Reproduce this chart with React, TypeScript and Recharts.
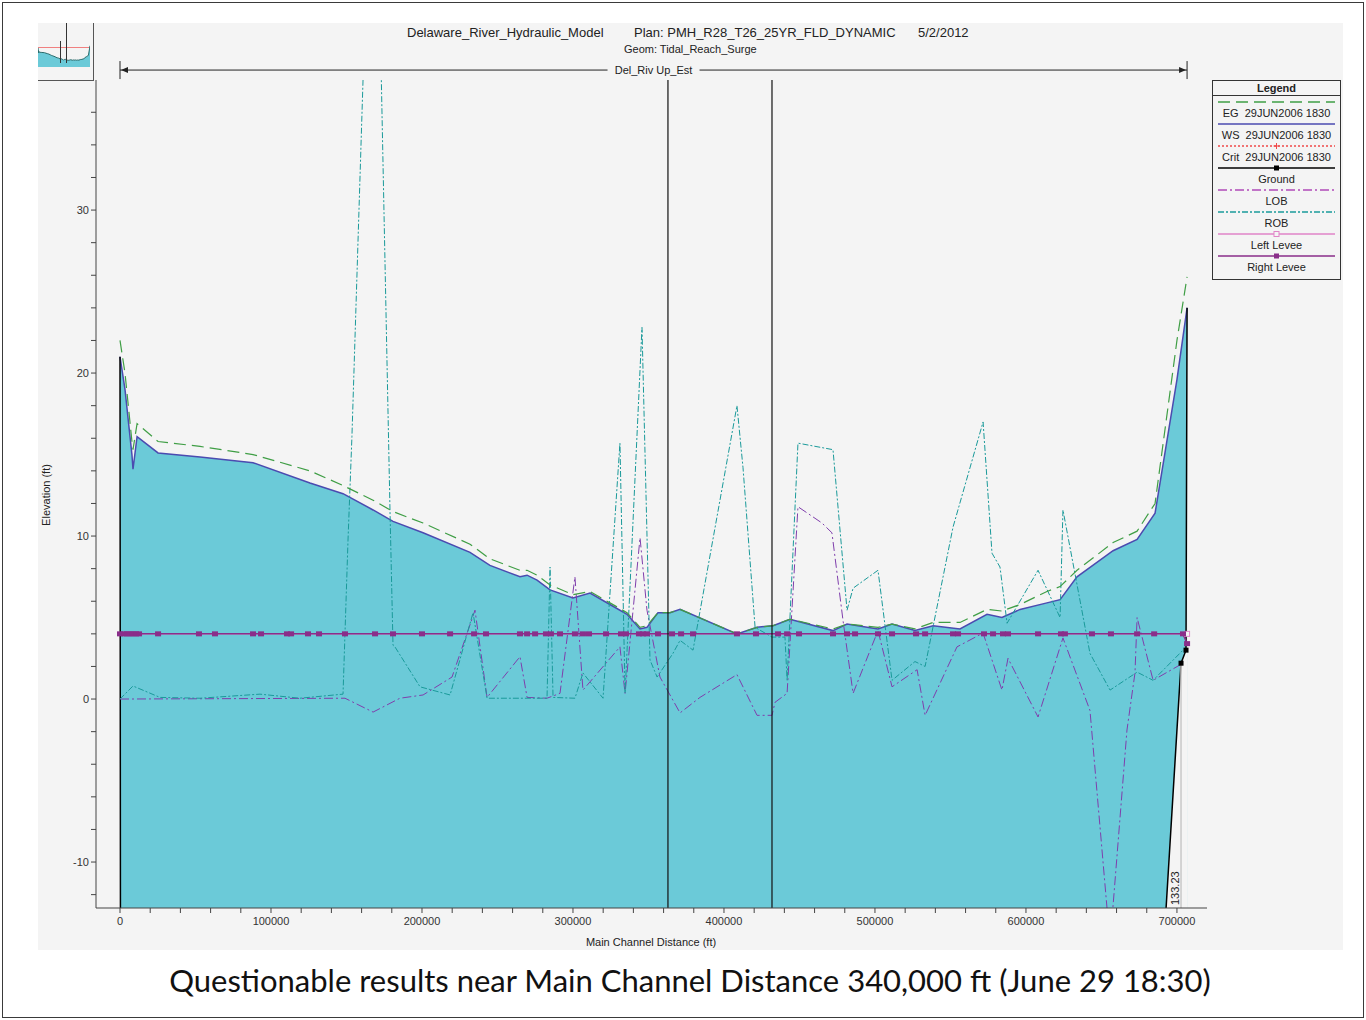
import React from 'react';
import { ComposedChart, AreaChart, Area, Line, XAxis, YAxis, ReferenceLine } from 'recharts';

// water surface / energy grade stations (ft) and elevations (ft)
const wsStation = [0, 3300, 7900, 8600, 11300, 25200, 53000, 88100, 125800, 147700, 167600, 180800, 200700, 231800,
  245000, 264900, 269600, 276200, 284800, 300000, 311300, 324500, 335800, 344400, 349000, 356300, 364300, 370900,
  408600, 421900, 432500, 443700, 472200, 481500, 502000, 511300, 526500, 538500, 556300, 574200, 584100, 596100,
  613900, 622600, 633800, 657700, 673600, 685500, 700000, 706700];
const wsElev = [21.0, 19.0, 15.0, 14.1, 16.1, 15.1, 14.85, 14.5, 13.25, 12.6, 11.6, 10.9, 10.2, 9.0,
  8.2, 7.5, 7.6, 7.3, 6.7, 6.2, 6.5, 5.8, 5.2, 4.3, 4.4, 5.3, 5.3, 5.5,
  4.0, 4.4, 4.5, 4.9, 4.2, 4.6, 4.3, 4.6, 4.2, 4.5, 4.3, 5.2, 5.0, 5.5,
  5.9, 6.1, 7.5, 9.1, 9.8, 11.4, 19.6, 24.0];
const egElev = [22.0, 20.0, 15.8, 15.3, 16.9, 15.8, 15.5, 15.0, 14.0, 13.1, 12.2, 11.5, 10.8, 9.5,
  8.6, 7.9, 7.9, 7.6, 7.0, 6.4, 6.6, 5.9, 5.3, 4.4, 4.5, 5.3, 5.3, 5.5,
  4.0, 4.4, 4.5, 4.9, 4.3, 4.6, 4.4, 4.6, 4.3, 4.7, 4.7, 5.5, 5.4, 5.8,
  6.6, 6.9, 7.9, 9.6, 10.3, 12.0, 22.0, 25.9];

// ground (thalweg) - mostly below the visible range
const groundStation = [0, 500, 674900, 702700, 706000, 706700];
const groundElev = [21.0, -40, -40, 2.2, 3.0, 24.0];
const groundMarked = [false, false, false, true, true, false];

const lobStation = [0, 149000, 167600, 185400, 200700, 219900, 235100, 243100, 264900, 269600, 282800, 291400,
  301300, 306600, 331100, 334500, 344400, 349000, 357600, 370900, 384100, 408600, 421900, 431800, 433800, 441800,
  449000, 464900, 471500, 478800, 485500, 502000, 511300, 527900, 533200, 554300, 571600, 584100, 588100, 608000,
  624500, 642400, 655700, 666900, 672200, 673600, 684200, 704000];
const lobElev = [0, 0.05, -0.8, 0.05, 0.25, 1.35, 5.45, 0.1, 2.6, 0.1, 0.05, 0.35,
  7.5, 0.55, 3.2, 0.35, 9.9, 5.45, 1.35, -0.85, 0.1, 1.5, -1.0, -1.0, -0.2, 0.35,
  11.8, 10.8, 10.2, 4.85, 0.35, 4.2, 0.75, 1.8, -1.0, 3.2, 4.05, 0.55, 2.5, -1.1,
  3.75, -0.7, -15, -1.9, 1.6, 5.0, 1.15, 2.2];

const robStation = [0, 8600, 26500, 53000, 92700, 119200, 147700, 151000, 153600, 162300, 172200, 178800, 180800,
  182100, 198700, 218600, 233800, 243100, 282800, 284800, 286800, 301300, 306600, 319900, 331100, 334500, 345700,
  351000, 355700, 366200, 370900, 379500, 408600, 412600, 420600, 431800, 440400, 441800, 449000, 472200, 481500,
  485500, 502000, 511300, 526500, 533200, 551700, 571600, 577500, 582800, 587500, 608000, 622600, 624500, 642400,
  655700, 673600, 684200, 704000];
const robElev = [0, 0.8, 0.1, 0.05, 0.3, 0.05, 0.3, 9.75, 16.1, 42, 42, 11.6, 3.3,
  3.2, 0.75, 0.25, 5.3, 0.05, 0.05, 8.1, 0.1, 0.05, 1.6, 0.05, 15.7, 0.35, 22.8,
  2.4, 1.35, 2.8, 3.6, 3.0, 18.0, 14.2, 4.4, 3.8, 3.8, 1.15, 15.7, 15.3, 5.45,
  6.8, 7.9, 1.15, 2.3, 2.0, 10.55, 17.0, 8.95, 8.1, 4.65, 7.9, 5.0, 11.6, 2.8,
  0.55, 1.65, 1.15, 3.0];

const leveeStation = [0, 2600, 4600, 6600, 8600, 10600, 12600, 25200, 52300, 62900, 88100, 93400, 110600, 113300,
  124500, 131800, 149000, 168900, 180800, 200000, 218600, 234500, 242400, 264900, 269600, 274900, 282100, 285400,
  291400, 301300, 306600, 310600, 321900, 331800, 335100, 343700, 346400, 349000, 356300, 365600, 371600, 379500,
  408600, 421200, 435800, 441800, 449700, 472200, 481500, 486800, 502000, 511300, 527200, 533200, 551700, 555000,
  572200, 578200, 584800, 588100, 608000, 623200, 625800, 643700, 656300, 673600, 684900, 704000, 706700];
const rightLeveeElev = [4.0, 4.0, 4.0, 4.0, 4.0, 4.0, 4.0, 4.0, 4.0, 4.0, 4.0, 4.0, 4.0, 4.0,
  4.0, 4.0, 4.0, 4.0, 4.0, 4.0, 4.0, 4.0, 4.0, 4.0, 4.0, 4.0, 4.0, 4.0,
  4.0, 4.0, 4.0, 4.0, 4.0, 4.0, 4.0, 4.0, 4.0, 4.0, 4.0, 4.0, 4.0, 4.0,
  4.0, 4.0, 4.0, 4.0, 4.0, 4.0, 4.0, 4.0, 4.0, 4.0, 4.0, 4.0, 4.0, 4.0,
  4.0, 4.0, 4.0, 4.0, 4.0, 4.0, 4.0, 4.0, 4.0, 4.0, 4.0, 4.0, 3.4];
const leftLeveeStation = [0, 706700];
const leftLeveeElev = [4.0, 4.0];

const reachLines = [362900, 431800];
const reachName = 'Del_Riv Up_Est';
const reachSpan = [0, 706700];
const lastGround = { station: 702700, label: '133.23' };

const xTicks = [0, 20000, 40000, 60000, 80000, 100000, 120000, 140000, 160000, 180000, 200000, 220000, 240000,
  260000, 280000, 300000, 320000, 340000, 360000, 380000, 400000, 420000, 440000, 460000, 480000, 500000, 520000,
  540000, 560000, 580000, 600000, 620000, 640000, 660000, 680000, 700000];
const yTicks = [-12, -10, -8, -6, -4, -2, 0, 2, 4, 6, 8, 10, 12, 14, 16, 18, 20, 22, 24, 26, 28, 30, 32, 34, 36];

const legendItems = [
  { label: 'EG  29JUN2006 1830', color: '#3f9e45', dash: '12 6', marker: '' },
  { label: 'WS  29JUN2006 1830', color: '#4b4bb0', dash: '', marker: '' },
  { label: 'Crit  29JUN2006 1830', color: '#f04848', dash: '2 2', marker: 'plus' },
  { label: 'Ground', color: '#000000', dash: '', marker: 'square' },
  { label: 'LOB', color: '#b04ab8', dash: '9 3 2 3', marker: '' },
  { label: 'ROB', color: '#1a9a9a', dash: '6 2 2 2', marker: '' },
  { label: 'Left Levee', color: '#e085c8', dash: '', marker: 'open' },
  { label: 'Right Levee', color: '#8a2e8a', dash: '', marker: 'square' },
];

const toPts = (xs: number[], ys: number[]) => xs.map((x, i) => ({ x, y: ys[i] }));

const LeveeDot = (p: any) => (
  <rect key={`lv-${p.index}`} x={p.cx - 3} y={p.cy - 2.5} width={6} height={5} fill="#8a2e8a" />
);

const GroundDot = (p: any) =>
  groundMarked[p.index] ? (
    <rect key={`gd-${p.index}`} x={p.cx - 2.5} y={p.cy - 2.5} width={5} height={5} fill="#000" />
  ) : (
    <g key={`gd-${p.index}`} />
  );

const LeftLeveeDot = (p: any) =>
  p.index === leftLeveeStation.length - 1 ? (
    <rect key={`ll-${p.index}`} x={p.cx - 2.5} y={p.cy - 2.5} width={5} height={5} fill="#f4f4f4" stroke="#e085c8" />
  ) : (
    <g key={`ll-${p.index}`} />
  );

const ReachArrow = (p: any) => {
  const { x1, y1, x2 } = p;
  const mid = (x1 + x2) / 2;
  const c = '#222';
  return (
    <g>
      <line x1={x1} y1={y1} x2={mid - 46} y2={y1} stroke={c} strokeWidth={1} />
      <line x1={mid + 46} y1={y1} x2={x2} y2={y1} stroke={c} strokeWidth={1} />
      <line x1={x1} y1={y1 - 9} x2={x1} y2={y1 + 9} stroke={c} strokeWidth={1} />
      <line x1={x2} y1={y1 - 9} x2={x2} y2={y1 + 9} stroke={c} strokeWidth={1} />
      <path d={`M${x1 + 1},${y1} l7,-3 l0,6 z`} fill={c} />
      <path d={`M${x2 - 1},${y1} l-7,-3 l0,6 z`} fill={c} />
      <text x={mid} y={y1} dy="0.35em" textAnchor="middle" fontSize={11} fill={c}>
        {reachName}
      </text>
    </g>
  );
};

const GroundLabel = (p: any) => {
  const { x1, y1, y2 } = p;
  const bottom = Math.max(y1, y2);
  return (
    <g>
      <line x1={x1} y1={y1} x2={x1} y2={y2} stroke="#c8c8c8" strokeWidth={1.5} />
      <text
        x={x1 - 2}
        y={bottom - 3}
        transform={`rotate(-90 ${x1 - 2} ${bottom - 3})`}
        fontSize={11}
        fill="#222"
        textAnchor="start"
      >
        {lastGround.label}
      </text>
    </g>
  );
};

const LegendBox = () => (
  <div
    style={{
      position: 'absolute', left: 1212, top: 80, width: 127, height: 198, border: '1px solid #333',
      background: '#f4f4f4', fontSize: 11, color: '#222',
    }}
  >
    <div style={{ height: 14, lineHeight: '14px', textAlign: 'center', fontWeight: 'bold', borderBottom: '1px solid #333' }}>
      Legend
    </div>
    {legendItems.map((it) => (
      <div key={it.label} style={{ height: 22 }}>
        <svg width={127} height={12} style={{ display: 'block' }}>
          <line x1={5} x2={122} y1={6} y2={6} stroke={it.color} strokeWidth={1.3} strokeDasharray={it.dash || undefined} />
          {it.marker === 'square' && <rect x={61} y={3.5} width={5} height={5} fill={it.color} />}
          {it.marker === 'open' && <rect x={61} y={3.5} width={5} height={5} fill="#f4f4f4" stroke={it.color} />}
          {it.marker === 'plus' && <path d="M63.5,3 v6 M60.5,6 h6" stroke={it.color} strokeWidth={1} />}
        </svg>
        <div style={{ height: 10, lineHeight: '10px', textAlign: 'center', whiteSpace: 'pre' }}>{it.label}</div>
      </div>
    ))}
  </div>
);

export default function App() {
  const wsData = toPts(wsStation, wsElev);
  const egData = toPts(wsStation, egElev);
  const groundData = toPts(groundStation, groundElev);
  const lobData = toPts(lobStation, lobElev);
  const robData = toPts(robStation, robElev);
  const rightLevee = toPts(leveeStation, rightLeveeElev);
  const leftLevee = toPts(leftLeveeStation, leftLeveeElev);

  const txt: React.CSSProperties = { position: 'absolute', whiteSpace: 'pre', color: '#222' };

  return (
    <div
      style={{
        position: 'absolute', left: 0, top: 0, width: 1366, height: 1020, background: '#fff', overflow: 'hidden',
        fontFamily: '"Liberation Sans", Arial, sans-serif',
      }}
    >
      <div style={{ position: 'absolute', left: 2, top: 2, width: 1360, height: 1014, border: '1.5px solid #3a3a3a' }} />
      <div style={{ position: 'absolute', left: 38, top: 23, width: 1305, height: 927, background: '#f4f4f4' }} />

      {/* thumbnail */}
      <div style={{ position: 'absolute', left: 38, top: 23, width: 55, height: 57, borderRight: '1px solid #555', borderBottom: '1px solid #555' }}>
        <div style={{ position: 'absolute', left: 0, top: 24, width: 52, height: 1, background: '#f08080' }} />
        <div style={{ position: 'absolute', left: 0, top: 22 }}>
          <AreaChart width={52} height={22} margin={{ top: 0, right: 0, bottom: 0, left: 0 }}>
            <XAxis type="number" dataKey="x" hide domain={[0, 706700]} />
            <YAxis hide domain={[-5, 25]} />
            <Area data={wsData} dataKey="y" type="linear" stroke="#2b6b6b" fill="#6bcad8" fillOpacity={1} baseValue={-5} isAnimationActive={false} />
          </AreaChart>
        </div>
        <div style={{ position: 'absolute', left: 28, top: 0, width: 1, height: 40, background: '#333' }} />
        <div style={{ position: 'absolute', left: 22, top: 18, width: 1, height: 22, background: '#333' }} />
      </div>

      {/* titles */}
      <div style={{ ...txt, left: 407, top: 25, fontSize: 13 }}>Delaware_River_Hydraulic_Model</div>
      <div style={{ ...txt, left: 634, top: 25, fontSize: 13 }}>Plan: PMH_R28_T26_25YR_FLD_DYNAMIC</div>
      <div style={{ ...txt, left: 918, top: 25, fontSize: 13 }}>5/2/2012</div>
      <div style={{ ...txt, left: 624, top: 43, fontSize: 11 }}>Geom: Tidal_Reach_Surge</div>

      <div style={{ position: 'absolute', left: 0, top: 0 }}>
        <ComposedChart width={1366} height={1020} margin={{ top: 80, right: 159, bottom: 82, left: 46 }}>
          <XAxis
            type="number"
            dataKey="x"
            domain={[-15900, 719900]}
            allowDataOverflow
            ticks={xTicks}
            interval={0}
            tickFormatter={(v: number) => (v % 100000 === 0 ? String(v) : '')}
            tick={{ fontSize: 11, fill: '#333' }}
            tickSize={5}
            tickMargin={4}
            stroke="#444"
            height={30}
          />
          <YAxis
            type="number"
            domain={[-12.82, 37.98]}
            allowDataOverflow
            ticks={yTicks}
            interval={0}
            tickFormatter={(v: number) => (v % 10 === 0 ? String(v) : '')}
            tick={{ fontSize: 11, fill: '#333' }}
            tickSize={5}
            tickMargin={2}
            stroke="#444"
            width={50}
          />
          <Area data={wsData} dataKey="y" type="linear" stroke="#4b4bb0" strokeWidth={1.5} fill="#6bcad8" fillOpacity={1} baseValue={-60} isAnimationActive={false} />
          <Area data={groundData} dataKey="y" type="linear" stroke="#000" strokeWidth={1.5} fill="#f4f4f4" fillOpacity={1} baseValue={-60} dot={GroundDot} isAnimationActive={false} />
          <Line data={lobData} dataKey="y" type="linear" stroke="#7f3eac" strokeWidth={1} strokeDasharray="9 3 2 3" dot={false} isAnimationActive={false} />
          <Line data={robData} dataKey="y" type="linear" stroke="#1a9a9a" strokeWidth={1} strokeDasharray="6 2 2 2" dot={false} isAnimationActive={false} />
          <Line data={egData} dataKey="y" type="linear" stroke="#3f9e45" strokeWidth={1.2} strokeDasharray="12 6" dot={false} isAnimationActive={false} />
          <Line data={leftLevee} dataKey="y" type="linear" stroke="#e085c8" strokeWidth={1.5} dot={LeftLeveeDot} isAnimationActive={false} />
          <Line data={rightLevee} dataKey="y" type="linear" stroke="#8a2e8a" strokeWidth={1.5} dot={LeveeDot} isAnimationActive={false} />
          {reachLines.map((x) => (
            <ReferenceLine key={x} x={x} stroke="#111" strokeWidth={1.2} />
          ))}
          <ReferenceLine
            segment={[{ x: reachSpan[0], y: 38.59 }, { x: reachSpan[1], y: 38.59 }]}
            ifOverflow="visible"
            shape={ReachArrow}
          />
          <ReferenceLine
            segment={[{ x: lastGround.station, y: 2.2 }, { x: lastGround.station, y: -12.82 }]}
            ifOverflow="visible"
            shape={GroundLabel}
          />
        </ComposedChart>
      </div>

      {/* axis titles */}
      <div style={{ ...txt, left: 46, top: 495, fontSize: 11, transform: 'translate(-50%, -50%) rotate(-90deg)' }}>Elevation (ft)</div>
      <div style={{ ...txt, left: 651, top: 942, fontSize: 11, transform: 'translate(-50%, -50%)' }}>Main Channel Distance (ft)</div>

      <LegendBox />

      <div
        style={{
          position: 'absolute', left: 690, top: 980, transform: 'translate(-50%, -50%)', whiteSpace: 'pre',
          fontFamily: 'Lato, "Open Sans", sans-serif', fontSize: 31, color: '#111',
        }}
      >
        Questionable results near Main Channel Distance 340,000 ft (June 29 18:30)
      </div>
    </div>
  );
}
